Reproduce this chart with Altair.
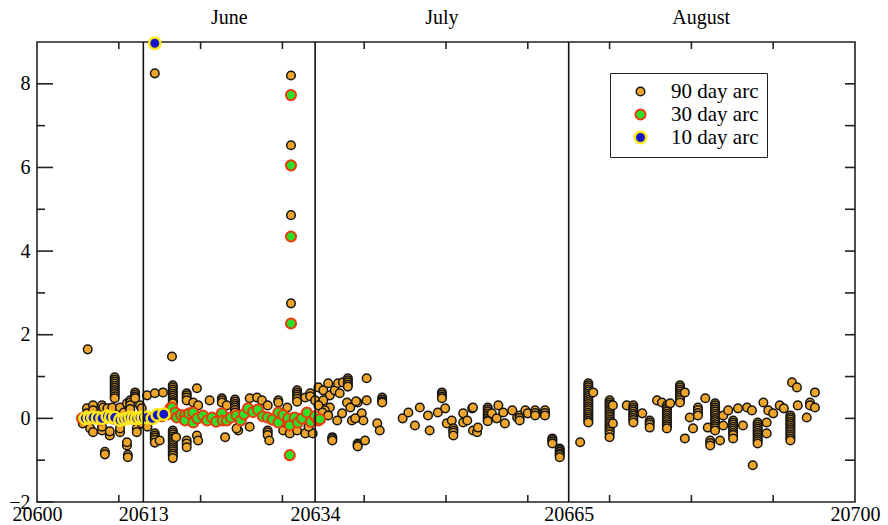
import altair as alt
import pandas as pd

# ---------------- data (MJD, value) ----------------
arcs = ["90 day arc", "30 day arc", "10 day arc"]

pre_june_90 = [
    (20606.2, 1.65), (20606.1, 0.24), (20606.1, 0.12), (20606.85, 0.31), (20606.85, 0.19),
    (20607.95, 0.31), (20607.95, 0.19), (20608.1, 0.26), (20608.6, 0.24),
    (20609.5, 0.98), (20609.5, 0.93), (20609.5, 0.88), (20609.5, 0.83), (20609.5, 0.78),
    (20609.5, 0.73), (20609.5, 0.68), (20609.5, 0.63), (20609.5, 0.58), (20609.5, 0.53),
    (20609.5, 0.48),
    (20609.2, 0.26), (20610.15, 0.26), (20610.6, 0.14), (20611.0, 0.36),
    (20611.4, 0.43), (20611.4, 0.38), (20611.4, 0.31), (20611.4, 0.22),
    (20612.0, 0.62), (20612.0, 0.57), (20612.0, 0.52), (20612.0, 0.48), (20612.6, 0.31),
    (20612.8, 0.24), (20613.45, 0.55), (20614.4, 0.60), (20615.4, 0.62),
    (20605.6, -0.12), (20606.5, -0.24), (20606.85, -0.33), (20607.95, -0.29), (20607.95, -0.20),
    (20608.9, -0.41), (20608.9, -0.31), (20608.3, -0.80), (20608.3, -0.86),
    (20610.15, -0.33), (20610.15, -0.24), (20611.0, -0.65), (20611.0, -0.57),
    (20611.1, -0.87), (20611.1, -0.93), (20612.2, -0.24), (20612.2, -0.33),
    (20612.8, -0.12), (20613.5, -0.20), (20614.4, -0.36), (20614.4, -0.41), (20614.4, -0.46),
    (20614.4, -0.51), (20614.4, -0.58),
]

june_90 = [
    (20614.4, 9.0), (20614.4, 8.25), (20616.5, 1.48),
    (20616.6, 0.79), (20616.6, 0.74), (20616.6, 0.69), (20616.6, 0.64), (20616.6, 0.59),
    (20616.6, 0.54), (20616.6, 0.49), (20616.6, 0.44), (20616.6, 0.39), (20616.6, 0.36),
    (20618.3, 0.60), (20618.3, 0.55), (20618.3, 0.50), (20618.3, 0.43),
    (20619.55, 0.72), (20619.1, 0.38), (20619.7, 0.31),
    (20621.1, 0.43), (20622.6, 0.48), (20622.6, 0.43), (20622.6, 0.38), (20623.2, 0.31),
    (20624.2, 0.45), (20624.2, 0.40), (20624.2, 0.35), (20624.2, 0.30), (20624.2, 0.25),
    (20624.2, 0.20), (20624.2, 0.14),
    (20626.0, 0.48), (20626.9, 0.50), (20627.5, 0.43), (20628.2, 0.31),
    (20629.5, 0.43), (20629.5, 0.38), (20630.6, 0.26),
    (20631.05, 8.2), (20631.05, 6.53), (20631.05, 4.86), (20631.05, 2.75),
    (20631.8, 0.67), (20631.8, 0.62), (20631.8, 0.57), (20631.8, 0.52), (20631.8, 0.47),
    (20631.8, 0.40),
    (20632.8, 0.50), (20633.4, 0.60), (20633.4, 0.53), (20634.0, 0.43),
    (20615.0, -0.53), (20616.6, -0.29), (20616.6, -0.34), (20616.6, -0.39), (20616.6, -0.44),
    (20616.6, -0.49), (20616.6, -0.54), (20616.6, -0.59), (20616.6, -0.64), (20616.6, -0.69),
    (20616.6, -0.74), (20616.6, -0.79), (20616.6, -0.84), (20616.6, -0.89), (20616.6, -0.95),
    (20617.0, -0.45), (20618.3, -0.53), (20618.3, -0.60), (20618.3, -0.69), (20619.55, -0.41),
    (20619.7, -0.53),
    (20623.0, -0.45), (20624.6, -0.29), (20624.4, -0.24), (20626.0, -0.20),
    (20628.2, -0.29), (20628.2, -0.34), (20628.2, -0.40), (20628.4, -0.53), (20630.1, -0.29),
    (20630.9, -0.36), (20631.8, -0.29), (20632.8, -0.36), (20633.7, -0.36), (20633.2, -0.20),
]

july_90 = [
    (20634.4, 0.74), (20635.0, 0.67), (20635.6, 0.84), (20635.8, 0.55), (20636.4, 0.67),
    (20636.8, 0.84), (20637.0, 0.60), (20637.4, 0.86),
    (20638.0, 0.96), (20638.0, 0.91), (20638.0, 0.86), (20638.0, 0.81), (20638.0, 0.76),
    (20637.9, 0.38), (20638.3, 0.26), (20639.2, 0.38), (20640.3, 0.96), (20640.3, 0.43),
    (20639.7, 0.12), (20639.9, -0.05), (20638.5, -0.05), (20637.3, 0.12), (20636.7, -0.05),
    (20635.8, 0.26), (20635.2, 0.19), (20635.0, 0.43), (20634.4, 0.31), (20634.9, 0.14),
    (20635.6, 0.07), (20639.0, 0.41), (20638.9, 0.0),
    (20636.1, -0.45), (20636.1, -0.49), (20636.1, -0.53), (20639.2, -0.60), (20639.2, -0.64),
    (20639.2, -0.67), (20640.1, -0.53),
    (20641.6, -0.12), (20641.9, -0.29), (20642.2, 0.50), (20642.2, 0.45), (20642.2, 0.41),
    (20642.2, 0.38),
    (20644.7, 0.0), (20645.4, 0.14), (20646.2, -0.17), (20646.8, 0.26), (20647.8, 0.07),
    (20648.0, -0.29), (20649.0, 0.14), (20649.5, 0.62), (20649.5, 0.57), (20649.5, 0.52),
    (20649.5, 0.48),
    (20649.9, 0.24), (20650.1, -0.12), (20650.7, -0.05),
    (20650.9, -0.24), (20650.9, -0.29), (20650.9, -0.34), (20650.9, -0.41),
    (20652.1, 0.12), (20652.1, -0.10), (20652.6, -0.05), (20653.2, 0.24), (20653.3, 0.26),
    (20653.3, -0.29), (20653.8, -0.33), (20653.9, -0.22),
    (20655.1, 0.26), (20655.1, 0.21), (20655.1, 0.16), (20655.1, 0.11), (20655.1, 0.06),
    (20655.1, 0.01), (20655.1, -0.04), (20655.1, -0.07),
    (20655.6, 0.12), (20656.2, 0.0), (20656.4, 0.31), (20657.0, 0.14),
    (20657.2, -0.12), (20658.1, 0.19), (20658.7, 0.02), (20659.0, 0.07), (20659.0, 0.01),
    (20659.0, -0.05),
    (20659.7, 0.19), (20660.0, 0.12), (20660.9, 0.19), (20660.9, 0.13), (20660.9, 0.07),
    (20662.1, 0.19), (20662.1, 0.13), (20662.1, 0.07),
    (20663.0, -0.48), (20663.0, -0.52), (20663.0, -0.56), (20663.0, -0.60),
    (20663.9, -0.72), (20663.9, -0.76), (20663.9, -0.80), (20663.9, -0.84), (20663.9, -0.88),
    (20663.9, -0.93),
]

august_90 = [
    (20666.4, -0.57),
    (20667.4, 0.84), (20667.4, 0.79), (20667.4, 0.74), (20667.4, 0.69), (20667.4, 0.64),
    (20667.4, 0.59), (20667.4, 0.54), (20667.4, 0.49), (20667.4, 0.44), (20667.4, 0.39),
    (20667.4, 0.34), (20667.4, 0.29), (20667.4, 0.24), (20667.4, 0.19), (20667.4, 0.14),
    (20667.4, 0.09), (20667.4, 0.04), (20667.4, -0.01), (20667.4, -0.06), (20667.4, -0.10),
    (20668.0, 0.62),
    (20670.0, 0.43), (20670.0, 0.38), (20670.0, 0.33), (20670.0, 0.28), (20670.0, 0.23),
    (20670.0, 0.18), (20670.0, 0.13), (20670.0, 0.08), (20670.0, 0.03), (20670.0, -0.02),
    (20670.0, -0.07), (20670.0, -0.12), (20670.0, -0.17), (20670.0, -0.22), (20670.0, -0.27),
    (20670.0, -0.32), (20670.0, -0.38), (20670.0, -0.45),
    (20670.4, 0.31), (20670.4, -0.12),
    (20672.1, 0.31), (20672.9, 0.31), (20672.9, 0.26), (20672.9, 0.21), (20672.9, 0.16),
    (20672.9, 0.11), (20672.9, 0.06), (20672.9, 0.01), (20672.9, -0.04), (20672.9, -0.10),
    (20674.0, 0.12), (20674.9, -0.05), (20674.9, -0.10), (20674.9, -0.15), (20674.9, -0.22),
    (20675.8, 0.43), (20676.4, 0.38),
    (20677.0, 0.31), (20677.0, 0.26), (20677.0, 0.21), (20677.0, 0.16), (20677.0, 0.11),
    (20677.0, 0.06), (20677.0, 0.01), (20677.0, -0.04), (20677.0, -0.09), (20677.0, -0.14),
    (20677.0, -0.19), (20677.0, -0.24), (20677.4, 0.36),
    (20678.6, 0.79), (20678.6, 0.74), (20678.6, 0.69), (20678.6, 0.64), (20678.6, 0.59),
    (20678.6, 0.54), (20678.6, 0.49), (20678.6, 0.44), (20678.6, 0.38),
    (20679.2, 0.62), (20679.2, -0.48), (20679.8, 0.02), (20680.2, -0.24),
    (20680.8, 0.26), (20680.8, 0.20), (20680.8, 0.13), (20680.8, 0.07), (20681.7, 0.48),
    (20682.0, -0.22), (20682.3, -0.53), (20682.3, -0.59), (20682.3, -0.65),
    (20682.9, 0.36), (20682.9, 0.31), (20682.9, 0.26), (20682.9, 0.21), (20682.9, 0.16),
    (20682.9, 0.11), (20682.9, 0.06), (20682.9, 0.01), (20682.9, -0.04), (20682.9, -0.09),
    (20682.9, -0.14), (20682.9, -0.19), (20682.9, -0.24), (20682.9, -0.29),
    (20683.5, -0.53), (20683.9, 0.07), (20683.9, -0.17), (20684.5, 0.19),
    (20685.1, -0.05), (20685.1, -0.10), (20685.1, -0.15), (20685.1, -0.20), (20685.1, -0.25),
    (20685.1, -0.30), (20685.1, -0.35), (20685.1, -0.40), (20685.1, -0.48),
    (20685.7, 0.24), (20686.3, -0.17), (20686.8, 0.26), (20687.4, 0.19), (20687.5, -1.12),
    (20688.1, -0.10), (20688.1, -0.15), (20688.1, -0.20), (20688.1, -0.25), (20688.1, -0.30),
    (20688.1, -0.35), (20688.1, -0.40), (20688.1, -0.45), (20688.1, -0.50), (20688.1, -0.55),
    (20688.1, -0.60),
    (20688.8, 0.38), (20689.2, -0.10), (20689.2, -0.36), (20689.4, 0.19), (20690.0, 0.12),
    (20690.8, 0.31), (20691.3, 0.24),
    (20692.1, 0.07), (20692.1, 0.02), (20692.1, -0.03), (20692.1, -0.08), (20692.1, -0.13),
    (20692.1, -0.18), (20692.1, -0.23), (20692.1, -0.28), (20692.1, -0.33), (20692.1, -0.38),
    (20692.1, -0.43), (20692.1, -0.48), (20692.1, -0.53),
    (20692.3, 0.86), (20692.9, 0.74), (20693.0, 0.31), (20694.1, 0.02),
    (20694.5, 0.38), (20694.5, 0.31), (20695.1, 0.62), (20695.1, 0.26),
]

early_30 = [
    (20605.5, 0.0), (20606.3, -0.02), (20607.0, 0.03), (20607.8, -0.03), (20608.5, 0.02),
    (20609.3, 0.0), (20610.0, -0.04), (20610.8, 0.02), (20611.5, 0.0), (20612.3, -0.02),
    (20613.0, 0.02), (20613.8, 0.0), (20614.6, 0.04), (20615.3, 0.05), (20616.0, 0.10),
]

june_30 = [
    (20616.3, 0.24), (20616.5, 0.26), (20616.9, 0.14), (20617.1, 0.02), (20617.6, 0.08),
    (20618.1, 0.07), (20618.1, -0.05), (20618.6, 0.12), (20619.1, -0.10), (20619.1, 0.14),
    (20619.6, 0.0), (20620.3, 0.07), (20620.8, -0.05), (20621.4, 0.02), (20621.9, -0.08),
    (20622.6, 0.12), (20622.7, -0.05), (20623.2, -0.05), (20623.7, 0.02), (20624.4, 0.07),
    (20624.9, -0.05), (20625.3, 0.10), (20625.8, 0.24), (20626.4, 0.15), (20627.0, 0.21),
    (20627.6, 0.05), (20628.2, 0.02), (20628.8, -0.03), (20629.5, 0.14), (20629.5, -0.10),
    (20630.1, 0.08), (20630.7, 0.0), (20630.9, -0.17), (20631.5, 0.02), (20631.9, -0.10),
    (20632.4, 0.0), (20633.0, 0.14), (20633.5, -0.08), (20634.0, 0.05), (20634.4, -0.05),
    (20634.6, -0.02),
    (20631.05, 7.73), (20631.05, 6.05), (20631.05, 4.35), (20631.05, 2.27), (20630.9, -0.88),
]

all_10 = [
    (20605.9, 0.0), (20606.4, 0.01), (20606.85, 0.02), (20607.4, 0.01), (20607.95, 0.0),
    (20608.6, 0.05), (20609.0, 0.03), (20609.5, 0.02), (20610.15, -0.04), (20610.6, -0.02),
    (20611.0, 0.0), (20611.4, 0.02), (20611.8, 0.01), (20612.2, 0.0), (20612.6, 0.02),
    (20613.0, 0.02), (20613.45, 0.02), (20614.1, 0.0), (20614.7, 0.08), (20615.5, 0.10),
    (20614.4, 8.97),
]

months = ["June", "July", "August"]
month_x = [20623.5, 20649.5, 20681.2]
month_bounds = [20613, 20634, 20665]
x_labels = [20600, 20613, 20634, 20665, 20700]
x_minor = [20610, 20620, 20630, 20640, 20650, 20660, 20670, 20680, 20690]
y_major = [-2, 0, 2, 4, 6, 8]
y_minor = [-1, 1, 3, 5, 7]
y_right = [-1, 0, 1, 2, 3, 4, 5, 6, 7, 8]

fills = ["#EDA52C", "#2BE02B", "#1414C8"]
strokes = ["#151515", "#EE3A0E", "#FFE81A"]
sizes = [74, 130, 46]
widths = [1.5, 2.5, 3.4]

# ---------------- build table ----------------
rows = []
for arc, groups in [
    ("90 day arc", [pre_june_90, june_90, july_90, august_90]),
    ("30 day arc", [early_30, june_30]),
    ("10 day arc", [all_10]),
]:
    for g in groups:
        for x, y in g:
            rows.append({"mjd": x, "val": y, "arc": arc, "idx": len(rows)})
df = pd.DataFrame(rows)

FONT = "Liberation Serif"
xs = alt.Scale(domain=[20600, 20700], nice=False, zero=False)
ys = alt.Scale(domain=[-2, 9], nice=False, zero=False)
xa = alt.Axis(values=x_labels, ticks=False, domain=False, grid=False, title=None,
              labelFont=FONT, labelFontSize=20, labelColor="black", labelPadding=2,
              format="d", labelFlush=False)
ya = alt.Axis(values=y_major, ticks=False, domain=False, grid=False, title=None,
              labelFont=FONT, labelFontSize=20, labelColor="black", labelPadding=7,
              labelFlush=False)

points = alt.Chart(df).mark_point(filled=True, opacity=1, shape="circle").encode(
    x=alt.X("mjd:Q", scale=xs, axis=xa),
    y=alt.Y("val:Q", scale=ys, axis=ya),
    fill=alt.Fill("arc:O", scale=alt.Scale(domain=arcs, range=fills), legend=alt.Legend(title=None)),
    stroke=alt.Stroke("arc:O", scale=alt.Scale(domain=arcs, range=strokes), legend=alt.Legend(title=None)),
    size=alt.Size("arc:O", scale=alt.Scale(domain=arcs, range=sizes), legend=alt.Legend(title=None)),
    strokeWidth=alt.StrokeWidth("arc:O", scale=alt.Scale(domain=arcs, range=widths), legend=None),
    order=alt.Order("idx:Q"),
)

vlines = alt.Chart(pd.DataFrame({"mjd": month_bounds})).mark_rule(color="#111", strokeWidth=1.6).encode(
    x=alt.X("mjd:Q", scale=xs, axis=xa))

mlabels = alt.Chart(pd.DataFrame({"m": months, "mjd": month_x})).mark_text(
    font=FONT, fontSize=20, color="black", baseline="middle", align="center").encode(
    x=alt.X("mjd:Q", scale=xs, axis=xa), y=alt.value(-24), text="m:N")

tick_style = dict(color="#222", strokeWidth=1.6)
left_major = alt.Chart(pd.DataFrame({"val": y_major})).mark_rule(**tick_style).encode(
    y=alt.Y("val:Q", scale=ys, axis=ya), x=alt.value(0), x2=alt.value(16))
left_minor = alt.Chart(pd.DataFrame({"val": y_minor})).mark_rule(**tick_style).encode(
    y=alt.Y("val:Q", scale=ys, axis=ya), x=alt.value(0), x2=alt.value(8))
right_ticks = alt.Chart(pd.DataFrame({"val": y_right})).mark_rule(**tick_style).encode(
    y=alt.Y("val:Q", scale=ys, axis=ya), x=alt.value(808), x2=alt.value(818))
bottom_ticks = alt.Chart(pd.DataFrame({"mjd": x_minor})).mark_rule(**tick_style).encode(
    x=alt.X("mjd:Q", scale=xs, axis=xa), y=alt.value(453), y2=alt.value(460))
top_ticks = alt.Chart(pd.DataFrame({"mjd": x_minor})).mark_rule(**tick_style).encode(
    x=alt.X("mjd:Q", scale=xs, axis=xa), y=alt.value(0), y2=alt.value(7))

chart = alt.layer(
    points, vlines, left_major, left_minor, right_ticks, bottom_ticks, top_ticks, mlabels
).properties(
    width=818, height=460,
    autosize=alt.AutoSizeParams(type="none"),
    padding={"left": 37, "top": 42, "right": 33, "bottom": 23},
    background="white",
).configure(
    font=FONT
).configure_view(
    stroke="#222", strokeWidth=1.6
).configure_axis(
    labelFont=FONT, labelFontSize=20, labelColor="black"
).configure_legend(
    orient="none", legendX=573, legendY=31, padding=8, strokeColor="#222",
    symbolOffset=12, labelFont=FONT, labelFontSize=21, labelColor="black",
    rowPadding=1, symbolStrokeWidth=1.5, labelOffset=20, symbolType="circle",
)

chart.save("out.html", embed_options={"renderer": "svg", "actions": False})
